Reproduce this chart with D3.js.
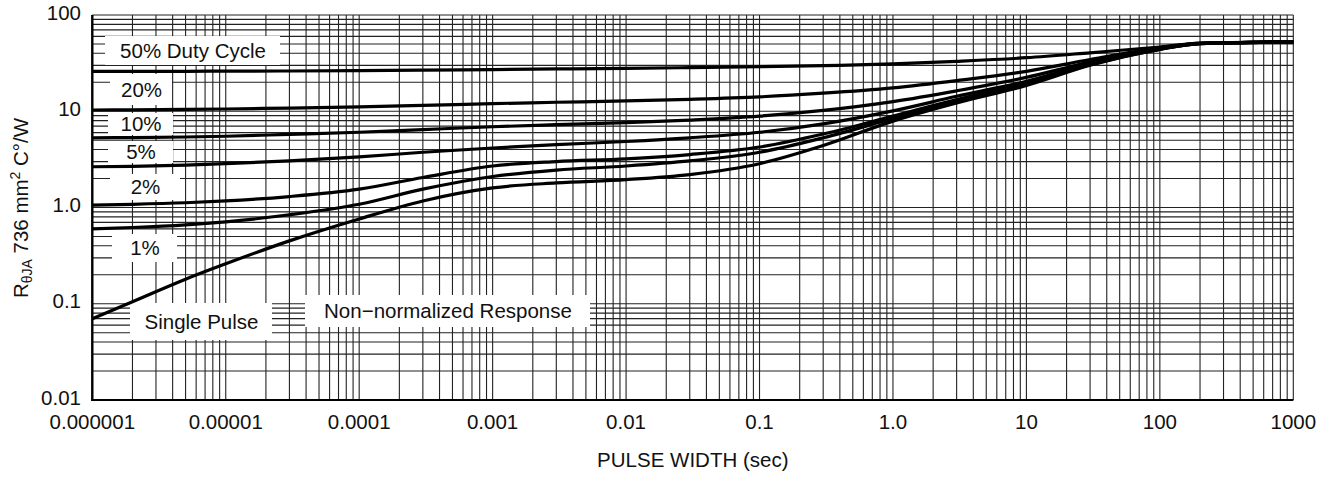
<!DOCTYPE html>
<html>
<head>
<meta charset="utf-8">
<script src="https://cdn.jsdelivr.net/npm/d3@7"></script>
<style>
  html, body { margin: 0; padding: 0; background: #fff; }
  svg { display: block; }
  text { font-family: "Liberation Sans", Arial, Helvetica, sans-serif; fill: #111; }
</style>
</head>
<body>
<svg id="chart" width="1331" height="479"></svg>
<script>
// Pulse widths (sec) at which each response curve is sampled
const pulseWidth = [1e-6, 2e-6, 5e-6, 1e-5, 3e-5, 1e-4, 3e-4, 1e-3, 3e-3, 0.01, 0.03, 0.1, 0.3, 1, 3, 10, 30, 100, 200, 1000];

// Thermal resistance R(t) for each duty cycle (°C/W)
const duty50 = [26, 26, 26, 26.1, 26.2, 26.4, 26.7, 27.1, 27.5, 27.9, 28.4, 29, 29.8, 31, 33, 36, 40.5, 46.5, 51, 52.5];
const duty20 = [10.3, 10.35, 10.45, 10.55, 10.8, 11.1, 11.5, 12, 12.4, 12.8, 13.3, 14.1, 15.4, 17.5, 20.8, 26, 34.5, 45.5, 50.8, 52.5];
const duty10 = [5.3, 5.33, 5.4, 5.5, 5.75, 6.05, 6.45, 6.9, 7.25, 7.6, 8.1, 8.9, 10.2, 12.6, 16.3, 22.5, 32.5, 45, 50.7, 52.5];
const duty5  = [2.65, 2.68, 2.76, 2.85, 3.05, 3.35, 3.75, 4.15, 4.5, 4.85, 5.3, 6.05, 7.4, 10.1, 14.3, 20.5, 31.5, 44.5, 50.6, 52.5];
const duty2  = [1.06, 1.08, 1.12, 1.17, 1.3, 1.55, 2.05, 2.7, 3.0, 3.2, 3.55, 4.25, 5.8, 8.9, 13.2, 19.5, 31, 44.5, 50.5, 52.5];
const duty1  = [0.6, 0.62, 0.66, 0.71, 0.84, 1.08, 1.55, 2.1, 2.45, 2.7, 3.05, 3.75, 5.3, 8.4, 12.7, 19, 30.5, 44, 50.5, 52.5];
const single = [0.07, 0.105, 0.18, 0.26, 0.45, 0.76, 1.17, 1.6, 1.8, 1.95, 2.2, 2.85, 4.4, 7.9, 12.2, 18.5, 30, 44, 50.5, 52.5];

const seriesList = [duty50, duty20, duty10, duty5, duty2, duty1, single];

// Axis ticks
const xTickValues = [1e-6, 1e-5, 1e-4, 1e-3, 0.01, 0.1, 1, 10, 100, 1000];
const xTickLabels = ["0.000001", "0.00001", "0.0001", "0.001", "0.01", "0.1", "1.0", "10", "100", "1000"];
const yTickValues = [0.01, 0.1, 1, 10, 100];
const yTickLabels = ["0.01", "0.1", "1.0", "10", "100"];

// In-plot annotations
const curveLabels = ["50% Duty Cycle", "20%", "10%", "5%", "2%", "1%", "Single Pulse", "Non\u2212normalized Response"];

const svg = d3.select("#chart");
const L = 92.3, R = 1293.3, T = 15, B = 400;
const FS = 20.5;

const x = d3.scaleLog().domain([1e-6, 1000]).range([L, R]);
const y = d3.scaleLog().domain([0.01, 100]).range([B, T]);

// Grid values: 1..9 × each decade
const xGrid = [];
for (let e = -6; e < 3; e++) for (let m = 1; m <= 9; m++) xGrid.push(m * Math.pow(10, e));
xGrid.push(1000);
const yGrid = [];
for (let e = -2; e < 2; e++) for (let m = 1; m <= 9; m++) yGrid.push(m * Math.pow(10, e));
yGrid.push(100);

const grid = svg.append("g");
grid.selectAll("line.v").data(xGrid).join("line")
  .attr("x1", d => x(d)).attr("x2", d => x(d))
  .attr("y1", T).attr("y2", B)
  .attr("stroke", "#222").attr("stroke-width", 1.1);
grid.selectAll("line.h").data(yGrid).join("line")
  .attr("x1", L).attr("x2", R)
  .attr("y1", d => y(d)).attr("y2", d => y(d))
  .attr("stroke", "#222").attr("stroke-width", 1.1);

// White label boxes that mask the grid
const boxes = [
  { t: curveLabels[0], x0: 105, x1: 280, y0: 36, y1: 65 },
  { t: curveLabels[1], x0: 110, x1: 172, y0: 74, y1: 105 },
  { t: curveLabels[2], x0: 108, x1: 173, y0: 113, y1: 135 },
  { t: curveLabels[3], x0: 108, x1: 173, y0: 141, y1: 163 },
  { t: curveLabels[4], x0: 110, x1: 180, y0: 174, y1: 200 },
  { t: curveLabels[5], x0: 112, x1: 177, y0: 234, y1: 262 },
  { t: curveLabels[6], x0: 130, x1: 272, y0: 303, y1: 340 },
  { t: curveLabels[7], x0: 305, x1: 590, y0: 295, y1: 327 }
];
const bg = svg.append("g");
bg.selectAll("rect").data(boxes).join("rect")
  .attr("x", d => d.x0).attr("y", d => d.y0)
  .attr("width", d => d.x1 - d.x0).attr("height", d => d.y1 - d.y0)
  .attr("fill", "#fff");
bg.selectAll("text").data(boxes).join("text")
  .attr("x", d => (d.x0 + d.x1) / 2 + 0.5)
  .attr("y", d => (d.y0 + d.y1) / 2 + 7.3)
  .attr("text-anchor", "middle")
  .attr("font-size", FS)
  .text(d => d.t);

// Axes frame
svg.append("line").attr("x1", L).attr("x2", L).attr("y1", T).attr("y2", B + 1)
  .attr("stroke", "#000").attr("stroke-width", 2.4);
svg.append("line").attr("x1", L - 1).attr("x2", R).attr("y1", B).attr("y2", B)
  .attr("stroke", "#000").attr("stroke-width", 2.2);

// Curves
const line = d3.line()
  .x((d, i) => x(pulseWidth[i]))
  .y(d => y(d))
  .curve(d3.curveMonotoneX);
svg.append("g").selectAll("path").data(seriesList).join("path")
  .attr("d", d => line(d))
  .attr("fill", "none").attr("stroke", "#000")
  .attr("stroke-width", 3.2).attr("stroke-linejoin", "round");

// Tick labels
svg.append("g").selectAll("text").data(xTickValues).join("text")
  .attr("x", d => x(d)).attr("y", 428.5)
  .attr("text-anchor", "middle").attr("font-size", FS)
  .text((d, i) => xTickLabels[i]);
svg.append("g").selectAll("text").data(yTickValues).join("text")
  .attr("x", 81).attr("y", d => y(d) + 4.5)
  .attr("text-anchor", "end").attr("font-size", FS)
  .text((d, i) => yTickLabels[i]);

// Axis titles
svg.append("text").attr("x", (L + R) / 2).attr("y", 467)
  .attr("text-anchor", "middle").attr("font-size", FS)
  .text("PULSE WIDTH (sec)");

const yt = svg.append("text")
  .attr("transform", "translate(28,208) rotate(-90)")
  .attr("text-anchor", "middle").attr("font-size", FS);
yt.append("tspan").text("R");
yt.append("tspan").attr("font-size", 14).attr("dy", 4).text("\u03B8JA");
yt.append("tspan").attr("dy", -4).text(" 736 mm");
yt.append("tspan").attr("font-size", 14).attr("dy", -8).text("2");
yt.append("tspan").attr("dy", 8).text(" C\u00B0/W");
</script>
</body>
</html>
